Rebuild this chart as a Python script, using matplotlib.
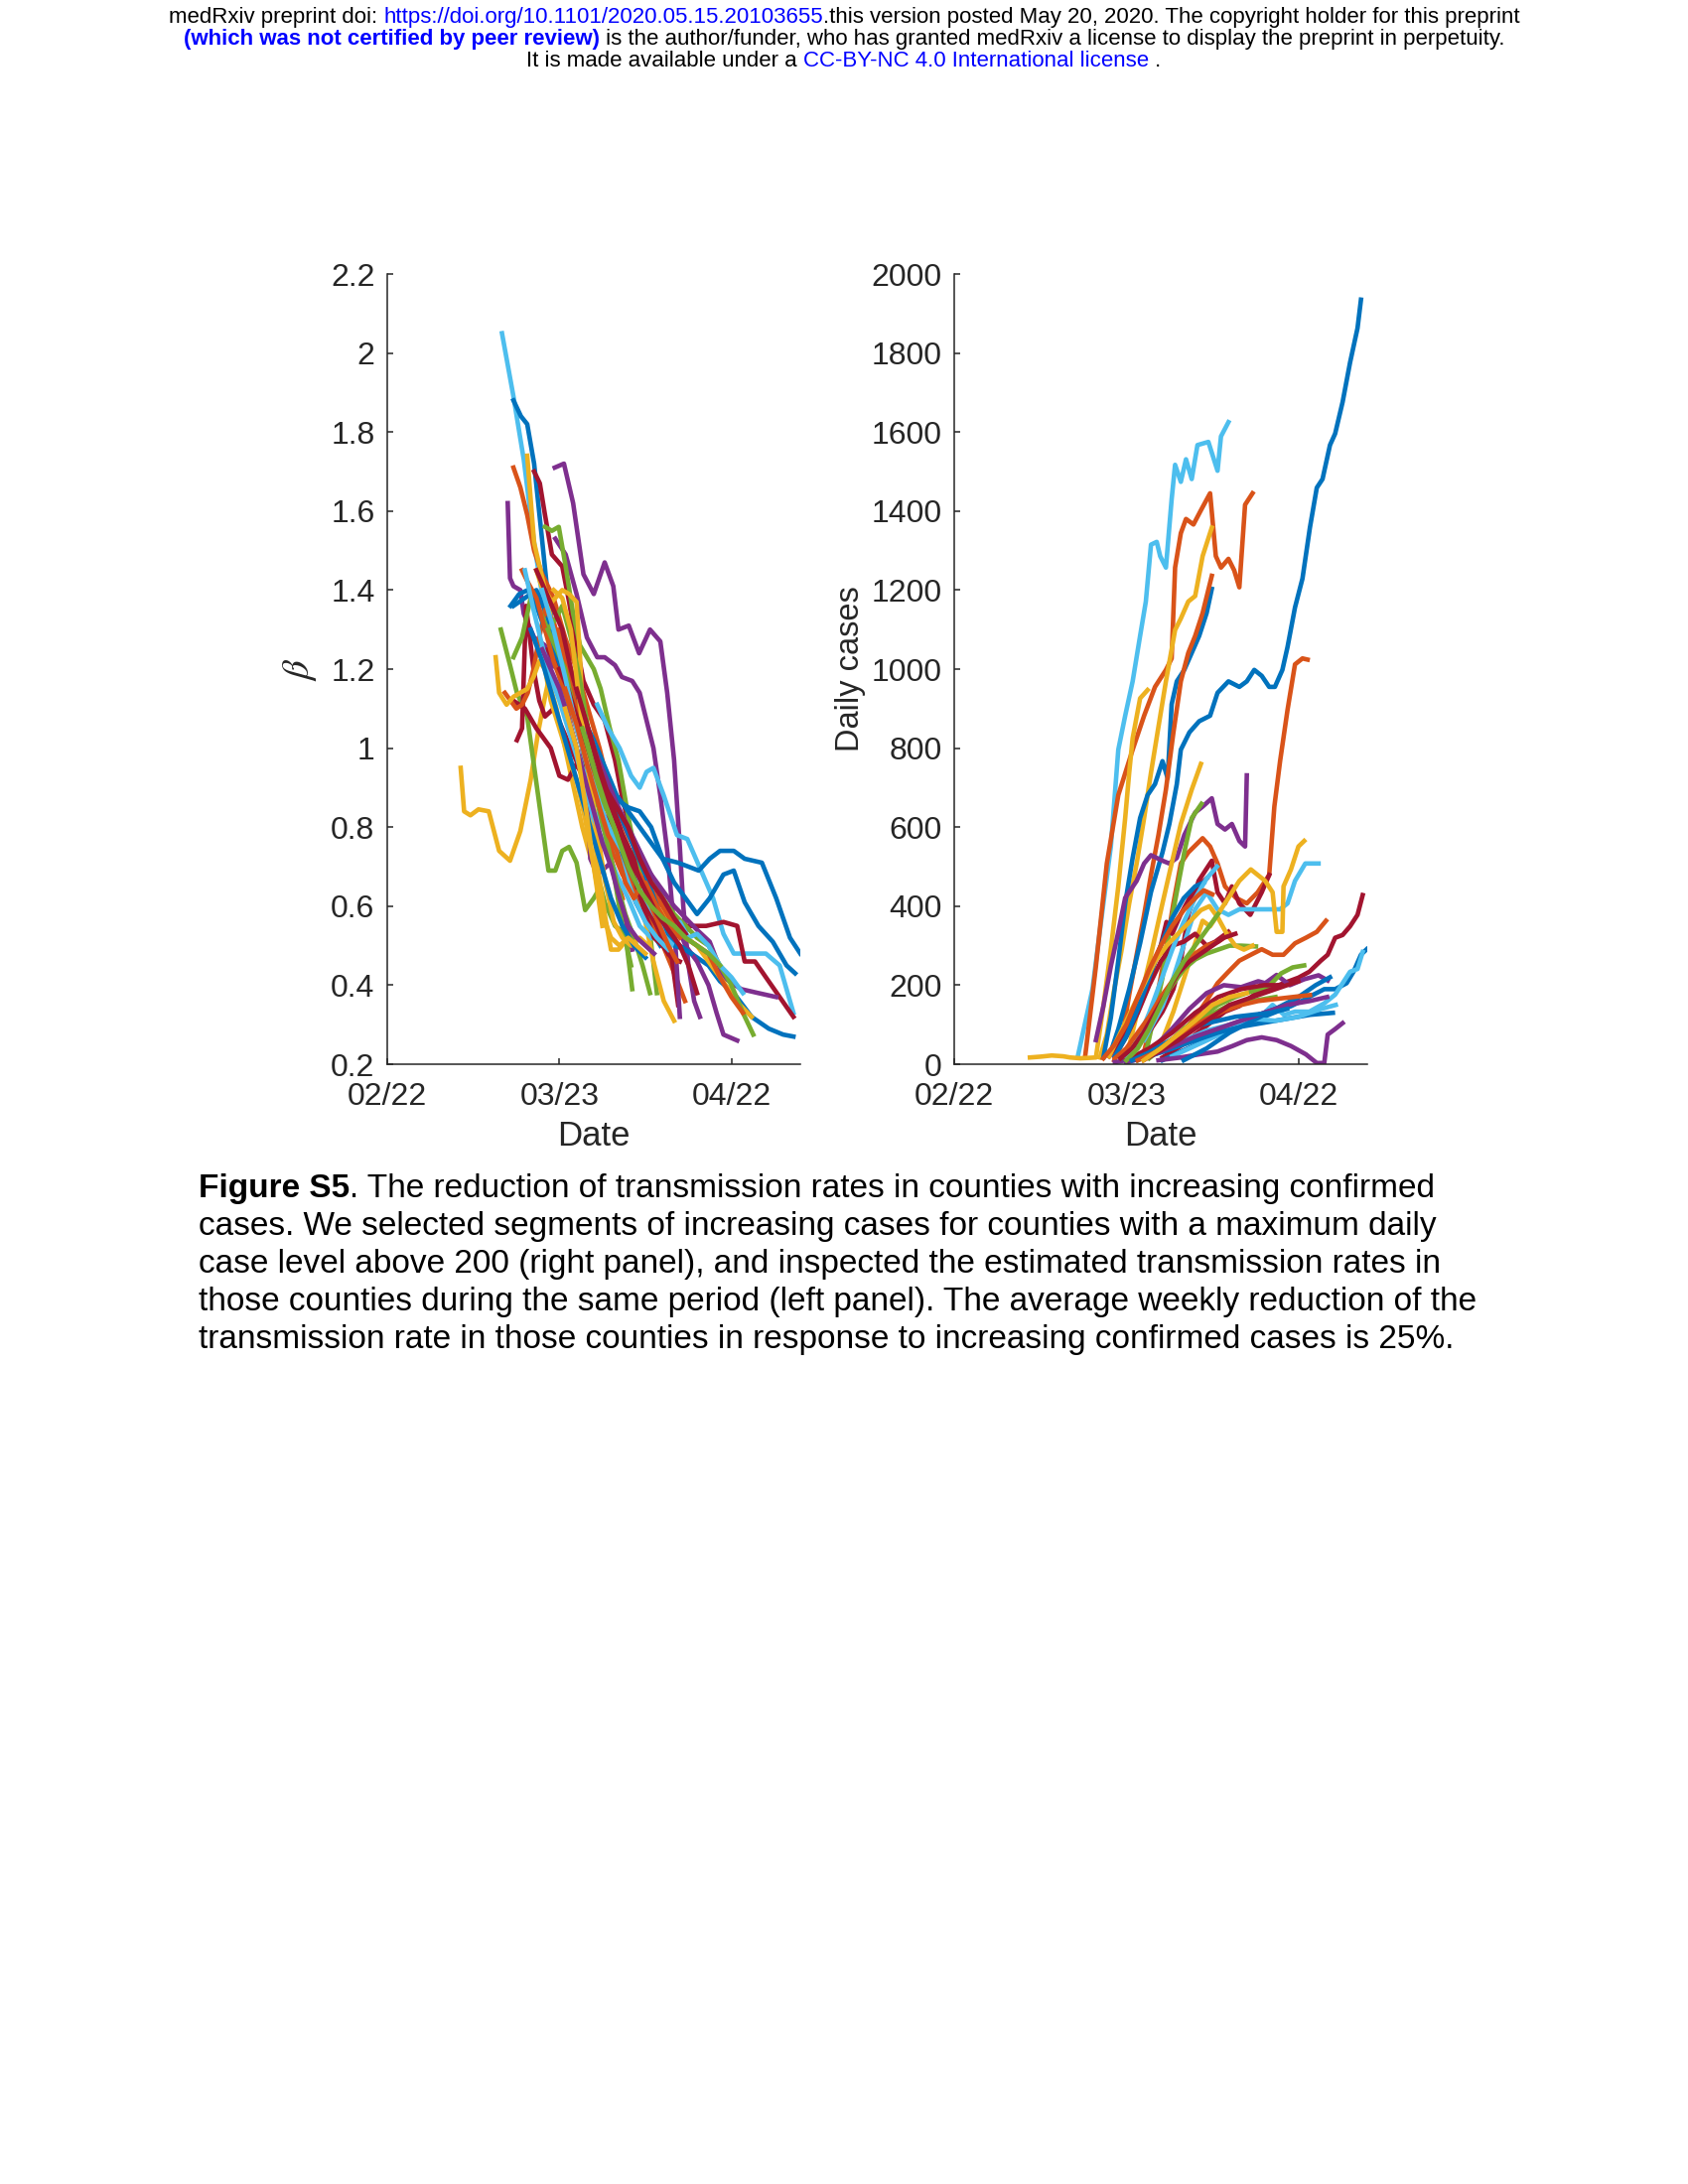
import matplotlib
matplotlib.use("Agg")
import matplotlib.pyplot as plt

plt.rcParams['font.family'] = ['Liberation Sans', 'DejaVu Sans']
plt.rcParams['mathtext.fontset'] = 'stix'

# MATLAB default colour order
palette = ['#0072BD', '#D95319', '#EDB120', '#7E2F8E', '#77AC30', '#4DBEEE', '#A2142F']

# x values are days after 02/22/2020
tick_days = [0, 30, 60]
tick_names = ['02/22', '03/23', '04/22']

# ---- left panel: transmission rate beta ----
beta_days = [
    [20, 22, 23.8, 25.6, 27.5, 29.3, 31.5, 33.5, 35.5, 37.5, 40, 42, 44, 46, 48],
    [22, 23.3, 24.4, 25.6, 26.9, 28.1, 29.9, 32, 34.2, 36.5, 39, 41, 43.3, 45.5, 47.6],
    [29.2, 30.8, 32.4, 34.2, 36, 37.9, 39.4, 40.3, 42.1, 43.9, 45.8, 47.6, 48.8, 50, 51, 51.6, 52.5, 53.5, 54.5],
    [12.8, 13.4, 14.5, 15.9, 17.7, 19.5, 21.4, 23.2, 25, 26.3, 27.5, 28.1, 29.5, 31, 32.5, 34, 35.5],
    [19.8, 21.4, 22.6, 24.4, 26.3, 28.1, 29.3, 30.5, 31.7, 33, 34.5, 36, 37.2, 37.9, 39.7, 41.5, 42.7],
    [22, 23.2, 24.4, 25.6, 27, 29, 31, 33, 35, 37, 39, 41, 43.3, 45.5, 47.5, 49.5, 51.9],
    [25.6, 26.6, 27.5, 28.7, 30.5, 31.7, 33, 34.2, 36, 37.9, 39.7, 40.9, 42.7, 44, 45.8, 47.6, 49.5, 50.7],
    [21, 21.4, 22, 23.2, 23.8, 25.6, 27.5, 28.7, 29.9, 31.1, 32.4, 33.6, 34.8, 35.4, 36.6, 39, 41, 42.7],
    [29.3, 31.1, 33, 34.8, 36.6, 37.9, 39.7, 40.9, 42.7, 44, 45.2, 46.4, 47.6, 48.8, 50.1, 51],
    [27.5, 28.7, 29.9, 31.1, 32.4, 33.6, 34.8, 36, 37.2, 38.8, 40.3, 42.1, 44, 45.8, 47],
    [24.4, 25.6, 27.5, 28.7, 30.5, 31.7, 33, 33.6, 34.2, 35.4, 36.6, 37.9, 39, 40.3, 41.5],
    [26, 28, 30, 32, 34, 36, 38, 40.3, 42, 43.3, 45, 46.4, 48.2, 50],
    [36.6, 38.5, 40.5, 42.5, 44, 45.2, 46.4, 48.2, 50.5, 52.3, 54.1, 56.8, 58.6, 60.4, 63.5, 66, 68.4, 70.8],
    [22, 24, 26, 28, 30, 32, 34, 36, 38, 40, 42, 44, 46, 48, 50.7, 52.5, 54.3, 56.2, 58, 60.4, 62.3, 65.3, 67.8, 70.2, 72],
    [30, 32, 34, 36, 38, 40, 42, 44, 46, 48, 50, 52, 54, 56.2, 58.6, 60.4, 62.3, 64.7, 67.2, 69.6, 71.1],
    [32, 34, 36, 38, 40, 42, 44, 46, 48, 50, 52, 54, 56, 58, 60.4, 63.5, 66.5, 69, 70.8],
    [28, 30, 32, 34, 36, 38, 40, 42, 44, 46, 48, 50, 52, 55.6, 58.6, 61, 62.3, 64.1, 66, 68.4, 70.8],
    [34, 36, 38, 40, 42, 44, 46, 48, 50, 52, 54, 56.2, 58.6, 61.7, 64.7, 67.8],
    [36, 38, 40, 42, 44, 46, 48, 50, 52, 54, 56, 57.4, 58.6, 61],
    [34, 36, 38, 40, 42, 44, 46, 48, 50, 52, 54, 56, 58, 60, 61.5, 63.5],
    [38, 40, 42, 44, 46, 48, 50, 52, 54, 56, 58, 60, 62, 63.8],
    [30, 32, 34, 36, 38, 40, 42, 44, 46, 48, 50, 52, 54, 56, 58, 60, 62],
    [22.6, 23.5, 24.2, 25.5, 26.5, 27.5, 29, 30.5, 32, 33.5, 35, 37, 39, 41, 43, 45, 47],
    [22, 24, 26, 27, 28.5, 30, 31.5, 33, 35, 37, 39, 41, 43, 45, 47, 49],
    [20.5, 21.5, 22.5, 23.5, 24.5, 25.5, 26.5, 27.5, 29, 31, 33, 35, 37, 39, 41],
    [18.9, 19.5, 20.8, 22, 23.2, 24.4, 25.5, 26.5, 27.5, 28.5, 30, 31.5, 33, 34.5, 36, 37.5],
    [22, 23.5, 25, 26.5, 28, 29.5, 30.5, 32, 33.5, 35, 36.5, 38, 39.5, 41, 42.5],
    [30, 32, 34, 36, 38, 40, 42, 43.5, 45, 46.5, 48, 49.5, 51, 52.5, 54, 56, 58, 60, 62],
    [21.5, 23, 24.5, 26, 27.5, 29, 30.5, 32, 33.5, 35, 37, 39, 41, 43, 45, 47, 49, 51, 53],
    [23.5, 24.5, 26, 27.5, 29, 31, 33, 35, 37, 39, 41, 43, 45, 47, 49, 51],
    [26, 27.5, 29, 30.5, 32, 33.5, 35, 36.5, 38, 40, 42, 44, 46, 48, 50, 52],
    [24, 25.5, 27, 28.5, 30, 31.5, 33, 34.5, 36, 38, 40, 42, 44, 46],
    [28, 29.5, 31, 32.5, 34, 35.5, 37, 38.5, 40, 41.5, 43, 44.5, 45.8],
    [29, 30.5, 32, 33.5, 35, 36.5, 38, 39.5, 41, 42.5, 44, 45.5],
    [27, 28.5, 30, 31.5, 33, 34.5, 36, 37.5, 39, 40.5, 42, 43.5, 45, 46.5],
    [30, 31.5, 33, 34.5, 36, 37.5, 39, 40.5, 42, 43.5, 45, 46.5, 48, 49.5, 51],
    [25, 27, 29, 31, 33, 35, 37, 39, 41, 43, 45],
    [27, 29, 31, 33, 35, 37, 39, 41, 43, 45, 47, 49],
    [31, 33, 35, 37, 38.5, 40, 41.5, 43, 44.5, 46, 47.5, 49, 50.5],
    [33, 35, 37, 39, 41, 43, 45, 47, 49, 51, 52.5, 54],
    [31, 33, 34.5, 36, 37.5, 39, 40.5, 42, 43.5, 45],
    [34, 36, 38, 40, 42, 44, 46, 48, 50, 52, 54, 56, 58],
]
beta_vals = [
    [2.05, 1.89, 1.73, 1.52, 1.34, 1.23, 1.08, 0.95, 0.86, 0.80, 0.74, 0.68, 0.60, 0.56, 0.53],
    [1.88, 1.84, 1.82, 1.72, 1.54, 1.37, 1.23, 1.10, 1.00, 0.92, 0.82, 0.72, 0.61, 0.55, 0.50],
    [1.71, 1.72, 1.62, 1.44, 1.39, 1.47, 1.41, 1.30, 1.31, 1.24, 1.30, 1.27, 1.14, 0.97, 0.75, 0.60, 0.45, 0.36, 0.32],
    [0.95, 0.84, 0.83, 0.845, 0.84, 0.74, 0.715, 0.79, 0.92, 1.04, 1.13, 1.17, 1.10, 1.00, 0.90, 0.80, 0.72],
    [1.30, 1.21, 1.14, 1.08, 0.88, 0.69, 0.69, 0.74, 0.75, 0.71, 0.59, 0.62, 0.65, 0.61, 0.55, 0.53, 0.39],
    [1.71, 1.66, 1.59, 1.50, 1.44, 1.38, 1.28, 1.20, 1.10, 1.00, 0.88, 0.74, 0.62, 0.57, 0.52, 0.45, 0.36],
    [1.70, 1.67, 1.59, 1.49, 1.46, 1.37, 1.26, 1.17, 1.11, 1.07, 0.97, 0.88, 0.77, 0.68, 0.61, 0.56, 0.48, 0.35],
    [1.62, 1.43, 1.41, 1.40, 1.34, 1.28, 1.26, 1.21, 1.20, 1.18, 1.13, 1.04, 0.91, 0.72, 0.68, 0.71, 0.60, 0.49],
    [1.53, 1.49, 1.39, 1.28, 1.23, 1.23, 1.21, 1.18, 1.17, 1.14, 1.07, 1.00, 0.88, 0.74, 0.53, 0.32],
    [1.56, 1.55, 1.56, 1.46, 1.34, 1.26, 1.23, 1.20, 1.15, 1.05, 0.97, 0.82, 0.68, 0.53, 0.38],
    [1.74, 1.52, 1.40, 1.37, 1.40, 1.39, 1.37, 1.23, 1.04, 0.88, 0.71, 0.58, 0.49, 0.49, 0.51],
    [1.45, 1.36, 1.25, 1.15, 1.06, 0.97, 0.90, 0.82, 0.75, 0.68, 0.56, 0.46, 0.36, 0.31],
    [1.11, 1.05, 1.00, 0.93, 0.90, 0.94, 0.95, 0.88, 0.78, 0.77, 0.71, 0.62, 0.53, 0.48, 0.48, 0.48, 0.45, 0.33],
    [1.36, 1.38, 1.40, 1.33, 1.22, 1.15, 1.08, 1.02, 0.95, 0.88, 0.84, 0.80, 0.76, 0.72, 0.71, 0.70, 0.69, 0.72, 0.74, 0.74, 0.72, 0.71, 0.62, 0.52, 0.48],
    [1.25, 1.15, 1.06, 0.98, 0.92, 0.87, 0.85, 0.84, 0.80, 0.72, 0.66, 0.62, 0.58, 0.62, 0.68, 0.69, 0.61, 0.55, 0.51, 0.45, 0.43],
    [1.10, 1.00, 0.92, 0.86, 0.78, 0.70, 0.64, 0.58, 0.53, 0.50, 0.49, 0.47, 0.45, 0.41, 0.38, 0.32, 0.29, 0.275, 0.27],
    [1.25, 1.20, 1.12, 1.02, 0.95, 0.88, 0.81, 0.74, 0.68, 0.64, 0.60, 0.56, 0.55, 0.55, 0.56, 0.55, 0.46, 0.46, 0.42, 0.37, 0.32],
    [1.05, 0.98, 0.92, 0.85, 0.78, 0.72, 0.68, 0.64, 0.60, 0.57, 0.54, 0.51, 0.42, 0.39, 0.38, 0.37],
    [1.00, 0.93, 0.86, 0.80, 0.74, 0.68, 0.62, 0.57, 0.50, 0.46, 0.40, 0.33, 0.275, 0.26],
    [1.02, 0.96, 0.88, 0.80, 0.74, 0.68, 0.62, 0.58, 0.55, 0.52, 0.50, 0.46, 0.42, 0.38, 0.35, 0.32],
    [0.85, 0.80, 0.74, 0.70, 0.66, 0.62, 0.58, 0.55, 0.52, 0.50, 0.45, 0.40, 0.33, 0.275],
    [1.30, 1.20, 1.10, 1.00, 0.90, 0.82, 0.72, 0.68, 0.64, 0.60, 0.55, 0.52, 0.50, 0.48, 0.42, 0.37, 0.33],
    [1.02, 1.05, 1.36, 1.20, 1.12, 1.08, 1.10, 1.05, 1.00, 0.95, 0.96, 0.90, 0.85, 0.78, 0.72, 0.60, 0.55],
    [1.12, 1.10, 1.05, 1.03, 1.00, 0.93, 0.92, 0.96, 0.90, 0.85, 0.80, 0.74, 0.70, 0.62, 0.55, 0.48],
    [1.14, 1.12, 1.10, 1.11, 1.14, 1.20, 1.28, 1.35, 1.32, 1.22, 1.10, 0.98, 0.85, 0.72, 0.62],
    [1.23, 1.14, 1.11, 1.13, 1.14, 1.15, 1.18, 1.22, 1.20, 1.12, 1.05, 0.98, 0.92, 0.82, 0.70, 0.55],
    [1.23, 1.28, 1.38, 1.35, 1.30, 1.33, 1.36, 1.28, 1.18, 1.05, 0.92, 0.80, 0.68, 0.55, 0.45],
    [1.15, 1.05, 0.95, 0.88, 0.82, 0.76, 0.72, 0.68, 0.62, 0.58, 0.55, 0.50, 0.56, 0.52, 0.53, 0.50, 0.45, 0.42, 0.38],
    [1.36, 1.39, 1.40, 1.36, 1.30, 1.25, 1.20, 1.12, 1.05, 0.98, 0.92, 0.87, 0.82, 0.75, 0.68, 0.60, 0.53, 0.50, 0.48],
    [1.45, 1.42, 1.38, 1.30, 1.22, 1.14, 1.05, 0.95, 0.85, 0.75, 0.68, 0.64, 0.66, 0.60, 0.55, 0.52],
    [1.45, 1.40, 1.35, 1.30, 1.20, 1.12, 1.05, 0.97, 0.90, 0.85, 0.80, 0.72, 0.66, 0.62, 0.57, 0.53],
    [1.45, 1.35, 1.26, 1.18, 1.12, 1.05, 0.98, 0.90, 0.82, 0.75, 0.68, 0.62, 0.55, 0.52],
    [1.30, 1.25, 1.20, 1.10, 1.00, 0.92, 0.84, 0.75, 0.66, 0.58, 0.52, 0.45, 0.38],
    [1.40, 1.38, 1.30, 1.12, 0.95, 0.80, 0.66, 0.56, 0.52, 0.50, 0.52, 0.50],
    [1.25, 1.20, 1.15, 1.08, 1.00, 0.92, 0.84, 0.76, 0.70, 0.62, 0.55, 0.52, 0.50, 0.48],
    [1.20, 1.15, 1.08, 1.02, 0.95, 0.90, 0.86, 0.80, 0.72, 0.65, 0.58, 0.52, 0.50, 0.47, 0.46],
    [1.30, 1.22, 1.12, 1.02, 0.92, 0.82, 0.72, 0.62, 0.55, 0.50, 0.47],
    [1.40, 1.30, 1.18, 1.05, 0.95, 0.86, 0.78, 0.70, 0.62, 0.56, 0.52, 0.49],
    [1.15, 1.06, 0.95, 0.85, 0.78, 0.74, 0.66, 0.62, 0.66, 0.60, 0.55, 0.50, 0.46],
    [1.15, 1.05, 0.95, 0.86, 0.78, 0.70, 0.64, 0.58, 0.54, 0.50, 0.45, 0.38],
    [1.10, 1.00, 0.86, 0.70, 0.58, 0.52, 0.50, 0.52, 0.50, 0.48],
    [1.05, 0.95, 0.86, 0.78, 0.70, 0.64, 0.60, 0.57, 0.55, 0.52, 0.50, 0.48, 0.45],
]
beta_colors = [5, 0, 3, 2, 4, 1, 6, 3, 3, 4, 2, 2, 5, 0, 0, 0, 6, 3, 3, 2,
               4, 1, 6, 6, 1, 2, 4, 5, 0, 1, 6, 5, 4, 2, 3, 6,
               0, 5, 1, 6, 2, 4]

# ---- right panel: daily cases ----
case_days = [
    [21.5, 24.1, 26, 27.3, 28.6, 29.8, 31.1, 32.4, 33.4, 34.3, 35.3, 35.9, 36.9, 37.9, 38.5, 39.5, 40.4, 41.4, 42.4, 44.3, 45.9, 46.5, 47.8],
    [22.8, 24.7, 26.6, 28.6, 31.1, 33.1, 35, 36.9, 37.9, 38.5, 39.5, 40.4, 41.7, 43, 44.6, 45.6, 46.5, 47.8, 48.8, 49.7, 50.7, 52],
    [25.4, 26.6, 27.9, 29.2, 30.5, 31.8, 33.1, 34.3, 35.6, 36.9, 38.5, 39.5, 40.8, 42, 43.3, 44.9],
    [13.2, 15, 17, 19, 20.2, 22, 23.5, 24.7, 26, 27.3, 28.6, 29.8, 30.5, 31.1, 32.4, 33.7],
    [26, 27.3, 28.6, 29.8, 31.1, 32.4, 33.7, 35, 36.3, 37.2, 37.9, 38.8, 40.1, 41.4, 42.7, 44, 44.9],
    [27.9, 29.2, 30.5, 31.8, 33.1, 34.3, 35.6, 36.9, 38.2, 39.5, 40.8, 42, 43.3, 44.9],
    [27.3, 28.6, 30.5, 32.4, 34.3, 36.3, 37.5, 38.8, 39.5, 41, 42.7, 44.6, 45.9, 47.8, 49.7, 51, 52.3, 53.6, 54.9, 55.9, 57.2, 58.1, 59.4, 60.7, 62, 63.2, 64.2, 65.5, 66.4, 67.7, 69, 70.3, 70.9],
    [33.1, 34.3, 35.6, 36.9, 38.2, 39.5, 40.8, 43.3, 44.6, 45.9, 47.2, 49.1, 51, 52.9, 54.9, 55.8, 56.8, 58.1, 59.4, 60.7, 61.6],
    [24.7, 26, 27.3, 28.6, 29.8, 31.8, 33.1, 34.3, 36.3, 37.5, 38.8, 40.1, 42, 43.3, 44.9, 45.9, 47.2, 48.4, 49.7, 50.7, 51],
    [33.7, 35, 36.3, 37.5, 38.8, 40.1, 41.4, 43.1],
    [30.5, 32.4, 34.3, 36.3, 37.9, 39.5, 41.4, 43],
    [29.2, 31.8, 34.3, 36.3, 38.2, 39.5, 40.8, 42.6, 44.9, 45.9, 47.2, 48.4, 49.7, 51.6, 53.6, 54.9],
    [33.1, 36.3, 38.2, 40.1, 42, 44, 45.9, 47.8, 49.7, 51.7, 54.2, 56.8, 58.1, 59.4, 61.2, 63.5],
    [36.3, 38.2, 40.1, 42, 43.3, 44.6, 45.9, 47.8, 49.7, 51.7, 54.2, 55.5, 56.2, 57.2, 57.4, 58.7, 60, 61],
    [36.9, 39.5, 42, 44, 45.9, 47.8, 49.7, 51.7, 53.6, 55.5, 57.4, 59.4, 61.3, 63.2, 64.8],
    [36.3, 39.5, 42, 44.6, 47.2, 49.7, 52.3, 54.9, 57.4, 60, 61.9, 63.9, 65.1, 66.4, 67.7, 69, 70.3, 71.2],
    [36.3, 39.5, 42.7, 45.9, 48.5, 51, 53.6, 56.2, 58.7, 60.7, 62.6, 64.5, 66.4, 68.4, 69.6, 70.9, 71.9],
    [38, 41, 44, 47, 50, 53, 55.5, 57.5, 59.4, 61.9, 64.5, 66.4, 67.7, 69, 70.3, 71.2],
    [35.6, 39.5, 42.7, 45.9, 48.5, 51, 53.6, 56.2, 58.7, 61.3, 63.2, 64.5, 65.1, 66.4, 67.7],
    [32, 35, 38, 41, 44, 47, 50, 53, 54.2, 56.2, 58.5, 61, 63.5, 65.1],
    [30, 32, 34, 36, 38, 40, 42, 44, 46, 48, 50, 52.6],
    [34, 37, 40, 43, 46, 49, 52, 55, 57, 59, 61],
    [28, 30, 32, 34, 36, 38, 40, 42, 44, 45.5, 47.8],
    [27, 29, 31, 33, 35, 36, 37, 38, 39.5, 41, 42.5, 44],
    [28, 30, 32, 34, 36, 38, 40, 42, 43.5],
    [30, 32, 34, 36, 38, 40, 42, 44, 45.8],
    [28, 30, 32, 34, 36, 38, 40, 42, 44, 46, 48],
    [28, 32, 36, 40, 44, 48, 52, 56, 58, 60],
    [30, 34, 38, 42, 46, 50, 54, 58, 62, 66],
    [32, 36, 40, 44, 48, 52, 56, 60, 64, 66.5],
    [40, 44, 48, 52, 56, 60, 63, 65.5],
    [30, 34, 38, 42, 46, 50, 54, 57],
    [32, 36, 40, 44, 48, 52, 56],
    [27, 29, 31, 33, 35, 37, 39, 41, 43, 44.5, 46, 47.5, 49, 50.5, 52],
    [26, 28, 30, 32, 34, 36, 38, 40, 42, 43.5, 45],
    [30, 34, 38, 42, 46, 50, 54, 58, 62, 65],
    [29, 31, 33, 35, 37, 39, 41, 43, 45, 47, 49],
    [30, 32, 34, 36, 38, 40, 42, 44, 46],
    [31, 34, 37, 40, 43, 46, 49, 52, 55, 58],
    [32, 35, 38, 41, 44, 47, 50, 53, 56, 59, 62],
    [33, 36, 39, 42, 45, 48, 51, 54, 57, 60],
    [33, 36, 39, 42, 45, 48, 51],
]
case_vals = [
    [17, 190, 407, 551, 796, 882, 969, 1084, 1171, 1315, 1322, 1286, 1257, 1430, 1517, 1474, 1531, 1481, 1567, 1575, 1502, 1589, 1625],
    [17, 248, 508, 681, 796, 882, 955, 998, 1027, 1257, 1344, 1380, 1366, 1402, 1445, 1286, 1257, 1279, 1250, 1207, 1416, 1445],
    [17, 75, 190, 291, 407, 508, 623, 738, 854, 969, 1099, 1128, 1171, 1185, 1286, 1358],
    [17, 19, 22, 20, 17, 15, 16, 17, 147, 291, 450, 623, 738, 825, 926, 947],
    [17, 118, 262, 407, 522, 623, 681, 709, 767, 724, 911, 969, 998, 1041, 1084, 1142, 1203],
    [10, 61, 176, 277, 378, 479, 580, 695, 839, 969, 1041, 1084, 1142, 1236],
    [32, 89, 190, 306, 436, 536, 608, 709, 796, 840, 868, 882, 940, 969, 955, 969, 998, 983, 955, 955, 998, 1056, 1156, 1229, 1358, 1459, 1481, 1567, 1596, 1676, 1776, 1863, 1935],
    [32, 104, 190, 291, 407, 508, 536, 572, 551, 508, 450, 421, 407, 435, 479, 652, 767, 897, 1012, 1027, 1024],
    [61, 147, 248, 335, 421, 464, 508, 529, 515, 508, 522, 580, 637, 652, 673, 608, 594, 608, 565, 551, 731],
    [46, 133, 219, 335, 436, 536, 623, 659],
    [46, 161, 277, 407, 508, 608, 695, 760],
    [17, 46, 89, 133, 190, 262, 378, 464, 515, 435, 407, 450, 407, 378, 435, 479],
    [61, 147, 219, 306, 392, 435, 392, 378, 392, 392, 392, 392, 407, 464, 508, 508],
    [61, 133, 219, 306, 363, 349, 378, 421, 464, 493, 464, 435, 335, 335, 450, 493, 551, 565],
    [32, 75, 118, 161, 205, 234, 262, 277, 291, 277, 277, 306, 320, 335, 363],
    [17, 46, 75, 104, 133, 147, 176, 190, 205, 219, 234, 262, 277, 320, 327, 349, 378, 428],
    [10, 32, 53, 75, 89, 104, 118, 133, 147, 161, 176, 190, 190, 205, 234, 277, 291],
    [20, 40, 60, 80, 100, 115, 150, 125, 133, 133, 154, 176, 205, 234, 241, 284],
    [10, 17, 25, 32, 46, 61, 68, 61, 46, 25, 3, 3, 75, 89, 104],
    [15, 45, 90, 140, 180, 200, 195, 210, 205, 226, 200, 215, 225, 212],
    [20, 60, 110, 160, 200, 240, 265, 280, 290, 300, 300, 298],
    [15, 50, 90, 120, 150, 170, 185, 200, 230, 245, 250],
    [20, 70, 130, 200, 260, 300, 310, 330, 300, 310, 335],
    [20, 60, 110, 180, 260, 300, 360, 330, 380, 420, 450, 470],
    [20, 70, 140, 220, 300, 370, 420, 450, 460],
    [15, 60, 130, 210, 290, 360, 420, 470, 500],
    [15, 40, 80, 120, 170, 210, 250, 280, 300, 310, 330],
    [5, 15, 30, 50, 75, 100, 120, 140, 150, 160],
    [5, 20, 40, 60, 80, 95, 105, 115, 125, 130],
    [10, 35, 60, 85, 100, 115, 110, 120, 140, 150],
    [10, 40, 80, 110, 140, 170, 200, 220],
    [10, 40, 80, 130, 170, 190, 200, 200],
    [10, 40, 80, 120, 150, 160, 170],
    [20, 80, 140, 200, 260, 300, 330, 360, 390, 400, 370, 330, 300, 290, 300],
    [15, 50, 100, 170, 240, 300, 350, 390, 420, 440, 430],
    [5, 20, 45, 70, 90, 110, 130, 150, 160, 170],
    [15, 40, 80, 130, 180, 230, 260, 280, 300, 320, 330],
    [10, 40, 90, 150, 210, 260, 300, 340, 380],
    [10, 30, 55, 80, 100, 110, 120, 125, 130, 140],
    [10, 30, 60, 90, 115, 135, 150, 160, 165, 170, 175],
    [10, 35, 60, 90, 120, 150, 165, 180, 195, 210],
    [10, 40, 75, 110, 150, 170, 180],
]
case_colors = [5, 1, 2, 2, 0, 1, 0, 1, 3, 4, 2, 6, 5, 2, 1, 6, 0, 5, 3, 3,
               4, 4, 6, 6, 0, 5, 1, 3, 0, 5, 0, 6, 4, 2, 1, 3,
               6, 4, 0, 1, 6, 2]

beta_ticks = [0.2, 0.4, 0.6, 0.8, 1, 1.2, 1.4, 1.6, 1.8, 2, 2.2]
case_ticks = [0, 200, 400, 600, 800, 1000, 1200, 1400, 1600, 1800, 2000]

fig = plt.figure(figsize=(17, 22), dpi=100)
W, H = 1700, 2200

ax_l = fig.add_axes([390 / W, 1 - 1072 / H, 416 / W, 796 / H])
ax_r = fig.add_axes([961 / W, 1 - 1072 / H, 416 / W, 796 / H])

axis_col = '#262626'
for ax in (ax_l, ax_r):
    for s in ('top', 'right'):
        ax.spines[s].set_visible(False)
    for s in ('left', 'bottom'):
        ax.spines[s].set_color(axis_col)
        ax.spines[s].set_linewidth(1.1)
    ax.tick_params(direction='in', length=4, width=1.1, colors=axis_col,
                   labelsize=23, pad=9)
    ax.tick_params(axis='x', pad=13)
    ax.set_xlim(0, 72)
    ax.set_xticks(tick_days)
    ax.set_xticklabels(tick_names)
    ax.set_xlabel('Date', fontsize=25, color=axis_col)
    ax.xaxis.set_label_coords(0.5, -0.07)

for d, v, c in zip(beta_days, beta_vals, beta_colors):
    ax_l.plot(d, v, color=palette[c], lw=3.3, solid_joinstyle='round')
ax_l.set_ylim(0.2, 2.2)
ax_l.set_yticks(beta_ticks)
ax_l.set_yticklabels([f'{t:g}' for t in beta_ticks])
ax_l.set_ylabel(r'$\beta$', fontsize=28, color=axis_col)
ax_l.yaxis.set_label_coords(-0.165, 0.5)

for d, v, c in zip(case_days, case_vals, case_colors):
    ax_r.plot(d, v, color=palette[c], lw=3.3, solid_joinstyle='round')
ax_r.set_ylim(0, 2000)
ax_r.set_yticks(case_ticks)
ax_r.set_yticklabels([str(t) for t in case_ticks])
ax_r.set_ylabel('Daily cases', fontsize=23.5, color=axis_col)
ax_r.yaxis.set_label_coords(-0.215, 0.5)

# ---- header and caption, drawn as runs of differently styled text ----
renderer = fig.canvas.get_renderer()


def text_run(parts, y_px, x_px=None, size=16):
    """parts: list of (string, colour, weight); centred when x_px is None."""
    objs = []
    widths = []
    for s, col, wt in parts:
        t = fig.text(0, 1 - y_px / H, s, color=col, fontsize=size,
                     fontweight=wt, va='baseline', ha='left')
        objs.append(t)
        widths.append(t.get_window_extent(renderer).width)
    total = sum(widths)
    x0 = (W - total) / 2 if x_px is None else x_px
    for t, w in zip(objs, widths):
        t.set_x(x0 / W)
        x0 += w


blue = '#0000FF'
text_run([('medRxiv preprint doi: ', 'black', 'normal'),
          ('https://doi.org/10.1101/2020.05.15.20103655', blue, 'normal'),
          ('.this version posted May 20, 2020. The copyright holder for this preprint', 'black', 'normal')],
         23)
text_run([('(which was not certified by peer review)', blue, 'bold'),
          (' is the author/funder, who has granted medRxiv a license to display the preprint in perpetuity.', 'black', 'normal')],
         45)
text_run([('It is made available under a ', 'black', 'normal'),
          ('CC-BY-NC 4.0 International license', blue, 'normal'),
          (' .', 'black', 'normal')],
         67)

cap_size = 24
cap_lines = [
    'cases. We selected segments of increasing cases for counties with a maximum daily',
    'case level above 200 (right panel), and inspected the estimated transmission rates in',
    'those counties during the same period (left panel). The average weekly reduction of the',
    'transmission rate in those counties in response to increasing confirmed cases is 25%.',
]
text_run([('Figure S5', 'black', 'bold'),
          ('. The reduction of transmission rates in counties with increasing confirmed', 'black', 'normal')],
         1206, x_px=200, size=cap_size)
for i, line in enumerate(cap_lines):
    text_run([(line, 'black', 'normal')], 1206 + 38 * (i + 1), x_px=200, size=cap_size)

fig.savefig('out.png', dpi=100)
